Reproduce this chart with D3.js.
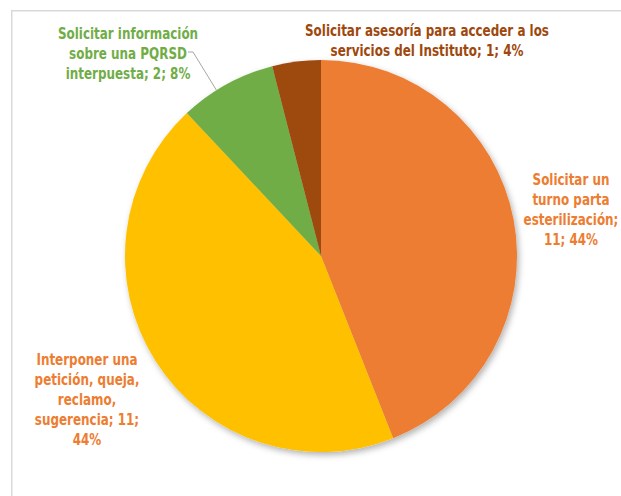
<!DOCTYPE html>
<html>
<head>
<meta charset="utf-8">
<script src="https://cdn.jsdelivr.net/npm/d3@7"></script>
<style>
  html, body { margin: 0; padding: 0; background: #fff; }
  svg { display: block; }
  .lbl { font-family: "DejaVu Sans Condensed", "Liberation Sans Narrow", "Open Sans", sans-serif; font-weight: bold; font-size: 15px; }
</style>
</head>
<body>
<svg id="chart" width="621" height="496"></svg>
<script>
// Request types and how many requests of each were received
const categories = [
  "Solicitar un turno parta esterilización",
  "Interponer una petición, queja, reclamo, sugerencia",
  "Solicitar información sobre una PQRSD interpuesta",
  "Solicitar asesoría para acceder a los servicios del Instituto"
];
const values = [11, 11, 2, 1];
const sliceColors = ["#ED7D31", "#FFC000", "#70AD47", "#9E480E"];
const labelColors = ["#ED7D31", "#ED7D31", "#70AD47", "#9E480E"];

const W = 621, H = 496;
const cx = 321, cy = 256, R = 196;

// Label placement: centre x, first baseline y, words per line
const labelLayout = [
  { x: 571, y: 185, words: [2, 2, 1, 2] },
  { x: 87,  y: 365, words: [2, 2, 1, 2, 1] },
  { x: 128, y: 39,  words: [2, 3, 3] },
  { x: 427, y: 36,  words: [6, 5] }
];
const lineH = 20;
const squeeze = 0.885;   // horizontal condensing of label text

const svg = d3.select("#chart");

// Chart area frame
svg.append("rect")
  .attr("x", 11.75).attr("y", 10.75)
  .attr("width", W + 20).attr("height", H + 20)
  .attr("fill", "#fff")
  .attr("stroke", "#D9D9D9").attr("stroke-width", 1.5);

// Soft drop shadow under the pie
const defs = svg.append("defs");
const f = defs.append("filter").attr("id", "shadow")
  .attr("x", "-20%").attr("y", "-20%").attr("width", "140%").attr("height", "140%");
f.append("feDropShadow")
  .attr("dx", 2).attr("dy", 3).attr("stdDeviation", 3)
  .attr("flood-color", "#000").attr("flood-opacity", 0.3);

const data = categories.map((c, i) => ({ category: c, value: values[i], i }));
const total = d3.sum(values);

const pie = d3.pie().value(d => d.value).sort(null);
const arc = d3.arc().innerRadius(0).outerRadius(R);
const arcs = pie(data);

const g = svg.append("g")
  .attr("transform", `translate(${cx},${cy})`)
  .attr("filter", "url(#shadow)");

g.selectAll("path")
  .data(arcs)
  .join("path")
  .attr("d", arc)
  .attr("fill", d => sliceColors[d.data.i]);

// Leader line for the small green slice
const green = arcs[2];
const mid = (green.startAngle + green.endAngle) / 2;
const edge = [cx + R * Math.sin(mid - 0.06), cy - R * Math.cos(mid - 0.06)];
svg.append("polyline")
  .attr("points", [[188, 52], [193, 52], edge].map(p => p.join(",")).join(" "))
  .attr("fill", "none")
  .attr("stroke", "#A6A6A6")
  .attr("stroke-width", 1);

// Data labels: "category; value; percent"
data.forEach((d, i) => {
  const pct = Math.round(d.value / total * 100) + "%";
  const words = `${d.category}; ${d.value}; ${pct}`.split(" ");
  const lay = labelLayout[i];
  const lines = [];
  let k = 0;
  lay.words.forEach(n => { lines.push(words.slice(k, k + n).join(" ")); k += n; });
  const t = svg.append("text")
    .attr("class", "lbl")
    .attr("text-anchor", "middle")
    .attr("fill", labelColors[i])
    .attr("transform", `translate(${lay.x},${lay.y}) scale(${squeeze},1)`);
  lines.forEach((ln, j) => {
    t.append("tspan").attr("x", 0).attr("y", j * lineH).text(ln);
  });
});
</script>
</body>
</html>
